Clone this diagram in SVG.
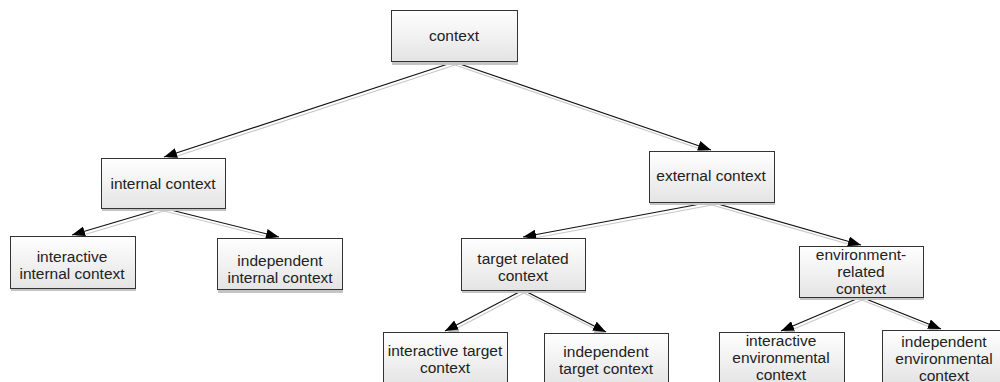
<svg xmlns="http://www.w3.org/2000/svg" width="1000" height="382" viewBox="0 0 1000 382">
<style>
.box{fill:url(#g);stroke:#333;stroke-width:1}
.sh{fill:#c4c4c4}
.t{font-family:"Liberation Sans",Arial,sans-serif;font-size:15.5px;fill:#222;text-anchor:middle}
.ln{stroke:#111;stroke-width:1.2;fill:none;marker-end:url(#ah)}
.lns{stroke:#c8c8c8;stroke-width:1.2;fill:none;marker-end:url(#ahs)}
</style>
<defs>
<linearGradient id="g" x1="0" y1="0" x2="0" y2="1">
<stop offset="0" stop-color="#ffffff"/>
<stop offset="1" stop-color="#e4e4e4"/>
</linearGradient>
<marker id="ah" viewBox="0 0 13 10" refX="13" refY="5" markerWidth="13" markerHeight="10" markerUnits="userSpaceOnUse" orient="auto">
<path d="M0,0 L13,5 L0,10 Z" fill="#000"/>
</marker>
<marker id="ahs" viewBox="0 0 13 10" refX="13" refY="5" markerWidth="13" markerHeight="10" markerUnits="userSpaceOnUse" orient="auto">
<path d="M0,0 L13,5 L0,10 Z" fill="#bbb"/>
</marker>
</defs>
<g id="connectors">
<g transform="translate(1,3)">
<path class="lns" d="M454,62 L164,157"/>
<path class="lns" d="M454,62 L711,150"/>
<path class="lns" d="M163,208 L72,235"/>
<path class="lns" d="M163,208 L279,237"/>
<path class="lns" d="M711,202 L523,237"/>
<path class="lns" d="M711,202 L861,245"/>
<path class="lns" d="M523,290 L445,331"/>
<path class="lns" d="M523,290 L606,332"/>
<path class="lns" d="M861,297 L781,331"/>
<path class="lns" d="M861,297 L941,329"/>
</g>
<path class="ln" d="M454,62 L164,157"/>
<path class="ln" d="M454,62 L711,150"/>
<path class="ln" d="M163,208 L72,235"/>
<path class="ln" d="M163,208 L279,237"/>
<path class="ln" d="M711,202 L523,237"/>
<path class="ln" d="M711,202 L861,245"/>
<path class="ln" d="M523,290 L445,331"/>
<path class="ln" d="M523,290 L606,332"/>
<path class="ln" d="M861,297 L781,331"/>
<path class="ln" d="M861,297 L941,329"/>
</g>
<g id="context">
<rect class="sh" x="392" y="13" width="126" height="52"/>
<rect class="box" x="391.5" y="10.5" width="126" height="51"/>
<text class="t" x="454" y="41">context</text>
</g>
<g id="internal">
<rect class="sh" x="102" y="161" width="124" height="50"/>
<rect class="box" x="101.5" y="158.5" width="124" height="50"/>
<text class="t" x="163" y="189">internal context</text>
</g>
<g id="interactive-internal">
<rect class="sh" x="11" y="239" width="125" height="52"/>
<rect class="box" x="10.5" y="236.5" width="125" height="52"/>
<text class="t" x="72" y="262">interactive</text>
<text class="t" x="72" y="279">internal context</text>
</g>
<g id="independent-internal">
<rect class="sh" x="218" y="241" width="125" height="52"/>
<rect class="box" x="217.5" y="238.5" width="125" height="51"/>
<text class="t" x="280" y="266">independent</text>
<text class="t" x="280" y="283">internal context</text>
</g>
<g id="external">
<rect class="sh" x="650" y="154" width="125" height="51"/>
<rect class="box" x="649.5" y="151.5" width="125" height="51"/>
<text class="t" x="711" y="181">external context</text>
</g>
<g id="target-related">
<rect class="sh" x="462" y="241" width="124" height="52"/>
<rect class="box" x="461.5" y="238.5" width="124" height="52"/>
<text class="t" x="523" y="264">target related</text>
<text class="t" x="523" y="281">context</text>
</g>
<g id="environment-related">
<rect class="sh" x="800" y="249" width="124" height="51"/>
<rect class="box" x="799.5" y="246.5" width="124" height="51"/>
<text class="t" x="861" y="260">environment-</text>
<text class="t" x="861" y="277">related</text>
<text class="t" x="861" y="294">context</text>
</g>
<g id="interactive-target">
<rect class="sh" x="384" y="335" width="124" height="52"/>
<rect class="box" x="383.5" y="332.5" width="124" height="52"/>
<text class="t" x="445" y="356">interactive target</text>
<text class="t" x="445" y="373">context</text>
</g>
<g id="independent-target">
<rect class="sh" x="545" y="336" width="124" height="52"/>
<rect class="box" x="544.5" y="333.5" width="124" height="52"/>
<text class="t" x="606" y="357">independent</text>
<text class="t" x="606" y="374">target context</text>
</g>
<g id="interactive-environmental">
<rect class="sh" x="720" y="335" width="125" height="52"/>
<rect class="box" x="719.5" y="332.5" width="125" height="52"/>
<text class="t" x="781" y="346">interactive</text>
<text class="t" x="781" y="363">environmental</text>
<text class="t" x="781" y="380">context</text>
</g>
<g id="independent-environmental">
<rect class="sh" x="883" y="333" width="125" height="52"/>
<rect class="box" x="882.5" y="330.5" width="125" height="52"/>
<text class="t" x="944" y="347">independent</text>
<text class="t" x="944" y="364">environmental</text>
<text class="t" x="944" y="381">context</text>
</g>
</svg>
